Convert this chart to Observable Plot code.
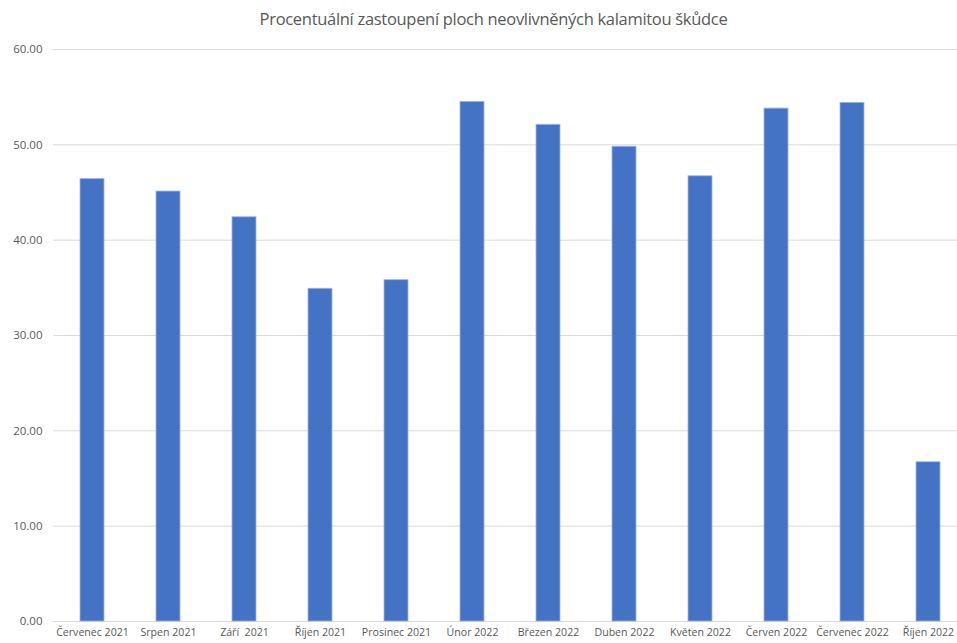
<!DOCTYPE html>
<html>
<head>
<meta charset="utf-8">
<script src="https://cdn.jsdelivr.net/npm/d3@7"></script>
<script src="https://cdn.jsdelivr.net/npm/@observablehq/plot@0.6"></script>
<style>
  body { margin: 0; background: #fff; }
  #title { height: 38px; line-height: 38px; text-align: center; padding-left: 30px; font-family: "Open Sans", sans-serif; font-size: 16.5px; letter-spacing: -0.3px; color: #595959; white-space: nowrap; }
  svg text { white-space: pre; }
</style>
</head>
<body>
<div id="title">Procentuální zastoupení ploch neovlivněných kalamitou škůdce</div>
<div id="chart"></div>
<script>
const months = ["Červenec 2021", "Srpen 2021", "Září  2021", "Říjen 2021", "Prosinec 2021", "Únor 2022", "Březen 2022", "Duben 2022", "Květen 2022", "Červen 2022", "Červenec 2022", "Říjen 2022"];
const values = [46.4, 45.1, 42.4, 34.9, 35.8, 54.5, 52.1, 49.8, 46.7, 53.8, 54.4, 16.7];
const yTicks = [0, 10, 20, 30, 40, 50, 60];

const data = months.map((m, i) => ({month: m, value: values[i]}));

const chart = Plot.plot({
  width: 957,
  height: 605,
  marginTop: 11,
  marginBottom: 22,
  marginLeft: 53,
  marginRight: 0,
  style: {fontFamily: "'Open Sans', sans-serif", fontSize: "11.5px", color: "#595959", background: "#fff"},
  x: {type: "band", domain: months, range: [53, 966], paddingInner: 0.69, paddingOuter: 0.345, align: 0.5, label: null},
  y: {domain: [0, 60], label: null, ticks: yTicks, tickFormat: d => d.toFixed(2)},
  marks: [
    Plot.gridY(yTicks, {stroke: "#d9d9d9", strokeOpacity: 1, strokeWidth: 1}),
    Plot.barY(data, {x: "month", y: "value", fill: "#4472C4", stroke: "#9db3e0", strokeWidth: 0.8}),
    Plot.axisY(yTicks, {tickSize: 0, tickPadding: 11, tickFormat: d => d.toFixed(2), label: null}),
    Plot.axisX({tickSize: 0, tickPadding: 7, label: null, fontSize: "10.6px", letterSpacing: "-0.2px"})
  ]
});
document.getElementById("chart").appendChild(chart);
</script>
</body>
</html>
